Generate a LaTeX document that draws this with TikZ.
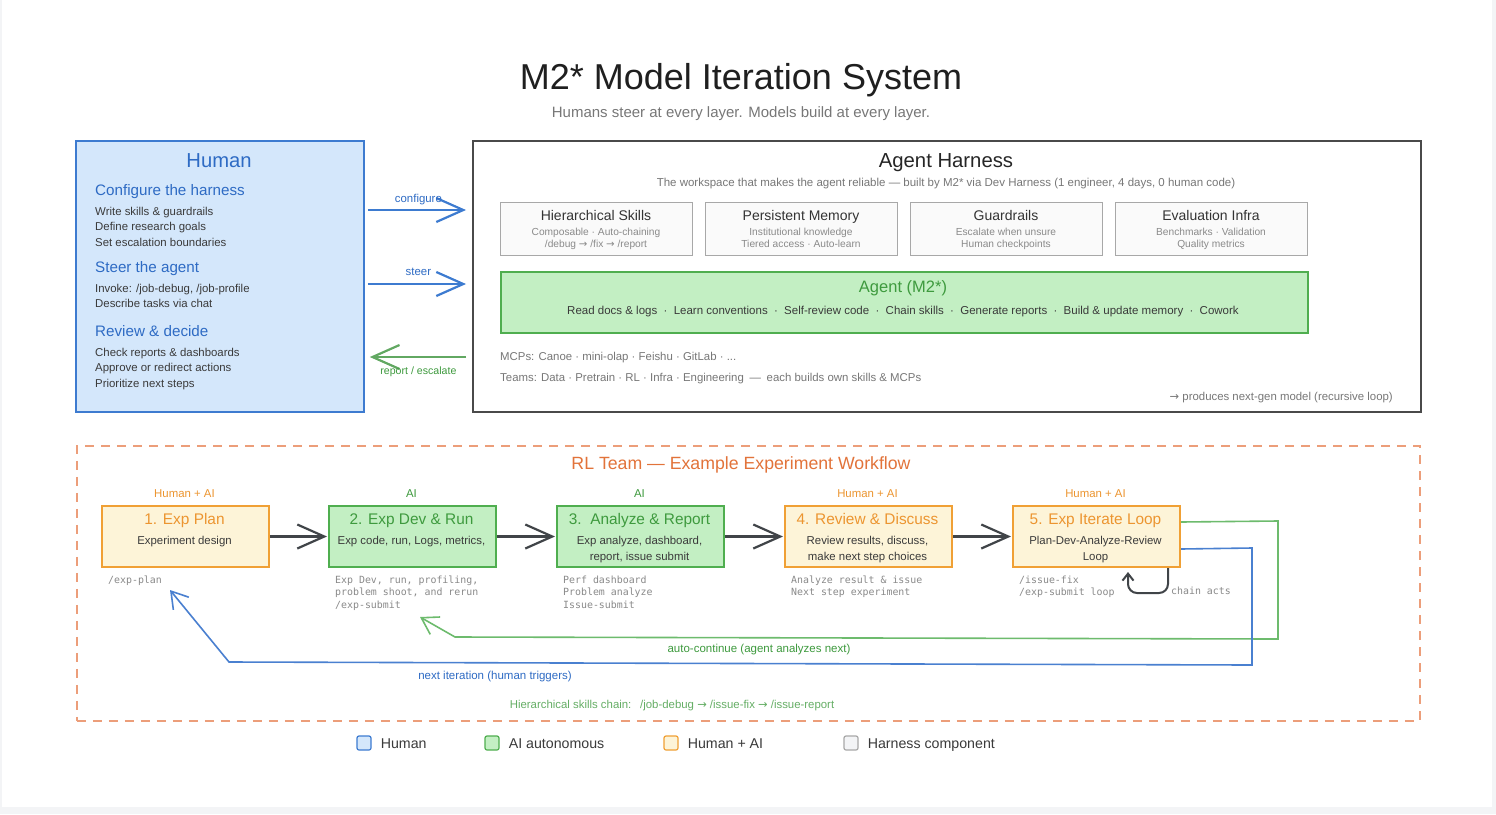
\documentclass[tikz,border=0pt]{standalone}
\usepackage{fontspec}
\setmainfont{Liberation Sans}
\setmonofont{DejaVu Sans Mono}
\newfontfamily\arrowfont{DejaVu Sans}
\usetikzlibrary{arrows.meta,positioning}
\definecolor{pagegray}{HTML}{F3F4F6}
\definecolor{humanline}{HTML}{3D7BD0}
\definecolor{humanfill}{HTML}{D4E7FB}
\definecolor{humantext}{HTML}{2E6BC4}
\definecolor{ailine}{HTML}{4FAE4F}
\definecolor{aifill}{HTML}{C3EFC3}
\definecolor{aitext}{HTML}{3E9A3E}
\definecolor{hyline}{HTML}{F0A035}
\definecolor{hyfill}{HTML}{FDF4D8}
\definecolor{hytext}{HTML}{EC9530}
\definecolor{harnline}{HTML}{4A4A4A}
\definecolor{compline}{HTML}{A8A8A8}
\definecolor{compfill}{HTML}{FAFAFA}
\definecolor{rldash}{HTML}{EC9E7A}
\definecolor{rltext}{HTML}{E2733A}
\definecolor{loopblue}{HTML}{4A80D0}
\definecolor{loopgreen}{HTML}{6DBB6D}
\definecolor{stepline}{HTML}{404448}
\definecolor{bodytext}{HTML}{3A3A3A}
\definecolor{softgray}{HTML}{777777}
\definecolor{notegray}{HTML}{8A8A8A}
\newcommand{\fsz}[2]{\fontsize{#1}{#2}\selectfont}
\newcommand{\itemdot}{\hspace{.55em}·\hspace{.55em}}
\newcommand{\rarr}{{\arrowfont →}}

\begin{document}
\begin{tikzpicture}[x=1pt, y=-1pt, every node/.style={inner sep=0pt},
    fs/.code={\pgfmathsetmacro\fsh{0.72*#1}%
      \edef\fsopts{font=\noexpand\fsz{#1}{#1},text height=\fsh pt,text depth=0pt}%
      \expandafter\tikzset\expandafter{\fsopts}},
    box/.style={draw, anchor=north west, line width=1.8pt},
    compbox/.style={draw=compline, fill=compfill, anchor=north west, line width=1pt,
      minimum width=192pt, minimum height=53pt},
    stepbox/.style={box, line width=2pt, minimum width=167pt, minimum height=61pt},
    hhead/.style={anchor=west, text=humantext, fs=15.2},
    hline/.style={anchor=west, text=bodytext, fs=11.4},
    note/.style={anchor=west, text=softgray, fs=11.4},
    mono/.style={anchor=north west, align=left, text=notegray, font=\ttfamily\fsz{9.9}{12.5}},
    bigbarb/.style={-{Straight Barb[length=27pt,width=24pt]}, line width=2.2pt},
    smallbarb/.style={-{Straight Barb[length=16pt,width=20pt]}, line width=1.6pt},
    legsq/.style={draw, rounded corners=2pt, minimum size=14pt, line width=1.2pt},
    legtx/.style={anchor=west, text=bodytext, fs=14.2}]
  \useasboundingbox (0,0) rectangle (1496,814);
  \fill[pagegray] (0,0) rectangle (1496,814);
  \fill[white] (2,0) rectangle (1492,807);

  % heading
  \node[fs=36, text=black!88] (title) at (741,77) {M2* Model Iteration System};
  \node[fs=15, text=softgray] (subtitle) at (741,112) {Humans steer at every layer. Models build at every layer.};

  % human side
  \node[box, draw=humanline, fill=humanfill, minimum width=288pt, minimum height=271pt] (human) at (75,140) {};
  \node[fs=20.2, text=humantext] (humantitle) at (219,160) {Human};
  \foreach \i/\y/\h in {1/190/Configure the harness, 2/267/Steer the agent, 3/331/Review \& decide}
    \node[hhead] (hh\i) at (95,\y) {\h};
  \foreach \j/\y/\t in {1/211/Write skills \& guardrails, 2/226/Define research goals,
      3/242/Set escalation boundaries, 4/288/{Invoke: /job-debug, /job-profile},
      5/303/Describe tasks via chat, 6/352/Check reports \& dashboards,
      7/367/Approve or redirect actions, 8/383/Prioritize next steps}
    \node[hline] (hl\j) at (95,\y) {\t};

  % harness
  \node[box, draw=harnline, fill=white, minimum width=948pt, minimum height=271pt] (harness) at (472,140) {};
  \node[fs=20.3, text=black!85] (harntitle) at (946,160) {Agent Harness};
  \node[fs=11.5, text=softgray] (harnsub) at (946,182)
    {The workspace that makes the agent reliable — built by M2* via Dev Harness (1 engineer, 4 days, 0 human code)};
  \foreach \i/\x/\t/\a/\b in {
      1/500/Hierarchical Skills/{Composable · Auto-chaining}/{/debug \rarr{} /fix \rarr{} /report},
      2/705/Persistent Memory/{Institutional knowledge}/{Tiered access · Auto-learn},
      3/910/Guardrails/{Escalate when unsure}/{Human checkpoints},
      4/1115/Evaluation Infra/{Benchmarks · Validation}/{Quality metrics}}{
    \node[compbox] (comp\i) at (\x,202) {};
    \node[fs=14, text=black!80] (ct\i) at (\x+96,215) {\t};
    \node[fs=10.2, text=notegray] (ca\i) at (\x+96,232) {\a};
    \node[fs=10.2, text=notegray] (cb\i) at (\x+96,244) {\b};
  }
  \node[box, draw=ailine, fill=aifill, minimum width=807pt, minimum height=61pt] (agent) at (500,271) {};
  \node[fs=16.5, text=aitext] (agenttitle) at (903,287) {Agent (M2*)};
  \node[fs=11.5, text=bodytext] (agentitems) at (903,310)
    {Read docs \& logs\itemdot Learn conventions\itemdot Self-review code\itemdot Chain skills\itemdot
     Generate reports\itemdot Build \& update memory\itemdot Cowork};
  \node[note] (mcps) at (500,356) {MCPs: Canoe · mini-olap · Feishu · GitLab · ...};
  \node[note] (teams) at (500,377) {Teams: Data · Pretrain · RL · Infra · Engineering\hspace{.5em}—\hspace{.5em}each builds own skills \& MCPs};
  \node[note, anchor=east] (recursive) at (1393,396) {\rarr{} produces next-gen model (recursive loop)};

  % human <-> harness
  \draw[bigbarb, humanline, shorten <=3pt, shorten >=6pt] (human.east |- 0,210) -- (harness.west |- 0,210)
    node[midway, above=6pt, text=humantext, fs=11.4] (lconf) {configure};
  \draw[bigbarb, humanline, shorten <=3pt, shorten >=6pt] (human.east |- 0,284) -- (harness.west |- 0,284)
    node[midway, above=7pt, text=humantext, fs=11.4] (lsteer) {steer};
  \draw[bigbarb, loopgreen!90!black, shorten <=6pt, shorten >=5pt] (harness.west |- 0,357) -- (human.east |- 0,357)
    node[midway, below=9pt, text=aitext, fs=10.6] (lrep) {report / escalate};

  % RL team workflow
  \node[box, draw=rldash, dash pattern=on 9pt off 7pt, line width=1.5pt, minimum width=1343pt, minimum height=275pt] (rlteam) at (76,445) {};
  \node[fs=17.7, text=rltext] (rltitle) at (741,463) {RL Team — Example Experiment Workflow};
  \foreach \i/\x/\ln/\fl/\tc/\who/\t/\b in {
      1/101/hyline/hyfill/hytext/Human + AI/{1. Exp Plan}/{Experiment design},
      2/328/ailine/aifill/aitext/AI/{2. Exp Dev \& Run}/{Exp code, run, Logs, metrics,},
      3/556/ailine/aifill/aitext/AI/{3.\ \ Analyze \& Report}/{Exp analyze, dashboard,\\report, issue submit},
      4/784/hyline/hyfill/hytext/Human + AI/{4. Review \& Discuss}/{Review results, discuss,\\make next step choices},
      5/1012/hyline/hyfill/hytext/Human + AI/{5. Exp Iterate Loop}/{Plan-Dev-Analyze-Review\\Loop}}{
    \node[stepbox, draw=\ln, fill=\fl] (step\i) at (\x,505) {};
    \node[text=\tc, fs=11.4] (who\i) at (\x+83.5,493) {\who};
    \node[text=\tc, fs=15.4] (st\i) at (\x+83.5,519) {\t};
    \node[anchor=north, align=center, text=bodytext, font=\fsz{11.4}{16}] (sb\i) at (\x+83.5,536) {\b};
  }
  \foreach \a/\b in {1/2, 2/3, 3/4, 4/5}
    \draw[bigbarb, stepline, shorten >=1pt] (step\a) -- (step\b);

  \foreach \i/\x/\t in {1/108/{/exp-plan}, 2/335/{Exp Dev, run, profiling,\\problem shoot, and rerun\\/exp-submit},
      3/563/{Perf dashboard\\Problem analyze\\Issue-submit}, 4/791/{Analyze result \& issue\\Next step experiment},
      5/1019/{/issue-fix\\/exp-submit loop}}
    \node[mono] (nt\i) at (\x,575.5) {\t};
  \node[mono, anchor=west] (chainacts) at (1171,591) {chain acts};
  \draw[-{Straight Barb[length=7pt,width=11pt]}, stepline, line width=2pt, rounded corners=9pt]
    ([xshift=-13pt]step5.south east) -- ++(0,25) -| ([xshift=-53pt, yshift=-4pt]step5.south east);

  % loops back
  \coordinate (gtip) at (420,617);
  \coordinate (btip) at (170,590);
  \draw[smallbarb, loopgreen] ([yshift=14.5pt]step5.east) -- (1278,521) -- (1278,639) -- (455,637) -- (gtip);
  \draw[smallbarb, loopblue] ([yshift=-12.5pt]step5.east) -- (1252,548) -- (1252,665) -- (229,662) -- (btip);
  \node[text=aitext, fs=11.5] (lauto) at (759,648) {auto-continue (agent analyzes next)};
  \node[text=humantext, fs=11.5] (lnext) at (495,675) {next iteration (human triggers)};
  \node[text=aitext!80, fs=11.4] (chain) at (672,704) {Hierarchical skills chain:\hspace{.4em} /job-debug \rarr{} /issue-fix \rarr{} /issue-report};

  % legend
  \foreach \i/\x/\ln/\fl/\t in {1/364/humanline/humanfill/Human, 2/492/ailine/aifill/AI autonomous,
      3/671/hyline/hyfill/Human + AI, 4/851/compline/pagegray/Harness component}{
    \node[legsq, draw=\ln, fill=\fl] (lg\i) at (\x,743) {};
    \node[legtx, right=9pt of lg\i] (lt\i) {\t};
  }
\end{tikzpicture}
\end{document}
